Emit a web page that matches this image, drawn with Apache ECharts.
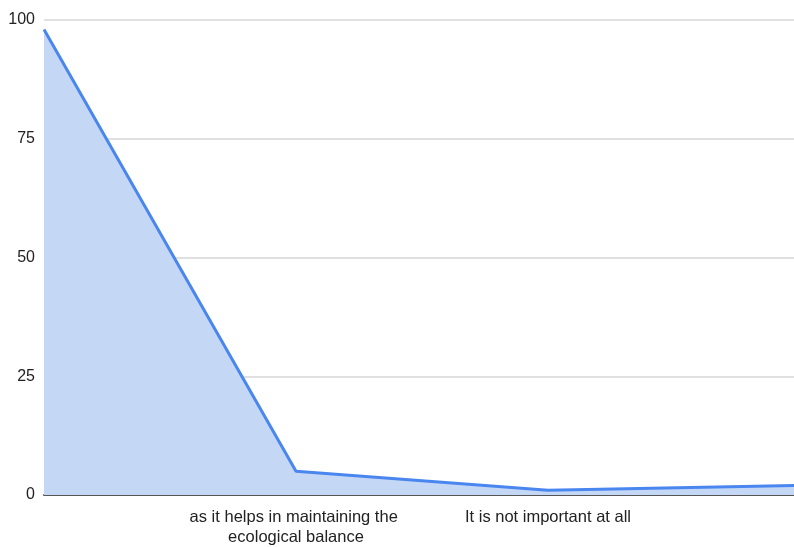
<!DOCTYPE html>
<html>
<head>
<meta charset="utf-8">
<script src="https://cdn.jsdelivr.net/npm/echarts@6/dist/echarts.min.js"></script>
<style>
  html, body { margin: 0; padding: 0; background: #fff; }
  #chart { width: 794px; height: 547px; }
</style>
</head>
<body>
<div id="chart"></div>
<script>
// Answer categories along the x axis (outer ones carry no visible label)
const categories = ['', 'as it helps in maintaining the ecological balance', 'It is not important at all', ''];
// Response counts per answer
const responses = [98, 5, 1, 2];
// Value axis ticks
const yTicks = [0, 25, 50, 75, 100];

const chart = echarts.init(document.getElementById('chart'));
chart.setOption({
  animation: false,
  grid: { left: 44, right: -6, top: 20, bottom: 52, containLabel: false, outerBoundsMode: 'none' },
  xAxis: {
    type: 'category',
    data: categories,
    boundaryGap: false,
    axisLine: { show: true, lineStyle: { color: '#555', width: 2 } },
    axisTick: { show: false },
    axisLabel: {
      interval: 0,
      color: '#222',
      fontFamily: 'Liberation Sans, Arial, sans-serif',
      fontSize: 16.5,
      lineHeight: 20,
      margin: 12,
      width: 250,
      overflow: 'break'
    },
    splitLine: { show: false }
  },
  yAxis: {
    type: 'value',
    min: yTicks[0],
    max: yTicks[yTicks.length - 1],
    interval: 25,
    axisLine: { show: false },
    axisTick: { show: false },
    axisLabel: {
      color: '#222',
      fontFamily: 'Liberation Sans, Arial, sans-serif',
      fontSize: 16,
      margin: 9
    },
    splitLine: { lineStyle: { color: '#d6d6d6', width: 1.5 } }
  },
  series: [{
    type: 'line',
    data: responses,
    symbol: 'none',
    lineStyle: { color: '#4a86f0', width: 3 },
    areaStyle: { color: '#c4d8f6', opacity: 1 },
    z: 3
  }]
});
</script>
</body>
</html>
